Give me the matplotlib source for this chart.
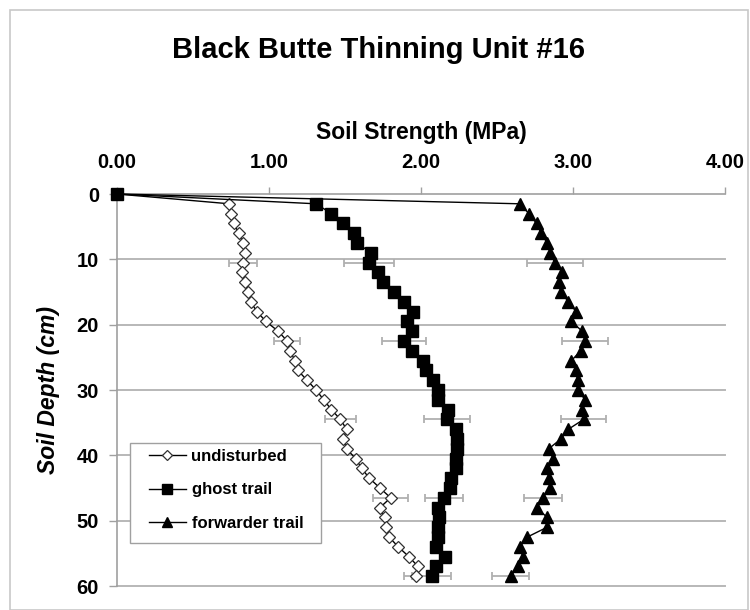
import numpy as np
import matplotlib.pyplot as plt
from matplotlib.patches import Rectangle

plt.rcParams['font.family'] = ['Liberation Sans', 'DejaVu Sans']

# depth of each reading (cm); 0 is the surface
depth = [0.0] + [1.5 * k for k in range(1, 40)]

undisturbed = [0.00,
               0.74, 0.75, 0.77, 0.80, 0.83, 0.84, 0.83, 0.82, 0.84, 0.86,
               0.88, 0.92, 0.98, 1.06, 1.12, 1.14, 1.17, 1.19, 1.25, 1.31,
               1.36, 1.41, 1.47, 1.51, 1.49, 1.51, 1.57, 1.61, 1.66, 1.73,
               1.80, 1.73, 1.76, 1.77, 1.79, 1.85, 1.92, 1.98, 1.97]
ghost_trail = [0.00,
               1.31, 1.41, 1.49, 1.56, 1.58, 1.67, 1.66, 1.72, 1.75, 1.82,
               1.89, 1.95, 1.91, 1.94, 1.89, 1.94, 2.01, 2.03, 2.08, 2.11,
               2.11, 2.18, 2.17, 2.23, 2.24, 2.24, 2.23, 2.23, 2.20, 2.19,
               2.15, 2.11, 2.12, 2.11, 2.11, 2.10, 2.16, 2.10, 2.07]
forwarder_trail = [0.00,
                   2.65, 2.71, 2.76, 2.79, 2.83, 2.85, 2.88, 2.93, 2.91, 2.92,
                   2.97, 3.02, 2.99, 3.06, 3.08, 3.05, 2.99, 3.02, 3.03, 3.03,
                   3.08, 3.06, 3.07, 2.97, 2.92, 2.84, 2.87, 2.83, 2.84, 2.85,
                   2.80, 2.76, 2.83, 2.83, 2.70, 2.65, 2.67, 2.64, 2.59]

# error bars are only shown at every 8th reading
err_index = [7, 15, 23, 31, 39]
undisturbed_err = [0.09, 0.085, 0.10, 0.115, 0.085]
ghost_err = [0.165, 0.145, 0.15, 0.125, 0.13]
forwarder_err = [0.185, 0.15, 0.15, 0.125, 0.12]

x_ticks = [0, 1, 2, 3, 4]
x_labels = ['0.00', '1.00', '2.00', '3.00', '4.00']
y_ticks = [0, 10, 20, 30, 40, 50, 60]

W, H = 750, 610
fig = plt.figure(figsize=(W/100, H/100), dpi=100)
ax = fig.add_axes([117/W, 1 - 586/H, (725 - 117)/W, (586 - 194)/H])

# outer chart frame
fig.patches.append(Rectangle((10/W, 0), 738/W, 1 - 10/H, transform=fig.transFigure,
                             fill=False, edgecolor='#c8c8c8', linewidth=1.2))

for g in y_ticks[1:]:
    ax.axhline(g, color='#b8b8b8', linewidth=1.4, zorder=0, clip_on=False)

series = [
    (undisturbed, undisturbed_err, 'undisturbed', dict(marker='D', markersize=6.5, markerfacecolor='white',
                                                       markeredgecolor='#303030', markeredgewidth=0.9,
                                                       markevery=slice(1, None))),
    (ghost_trail, ghost_err, 'ghost trail', dict(marker='s', markersize=8.5, markerfacecolor='black',
                                                 markeredgecolor='black')),
    (forwarder_trail, forwarder_err, 'forwarder trail', dict(marker='^', markersize=9, markerfacecolor='black',
                                                             markeredgecolor='black', markevery=slice(1, None))),
]

for vals, err, label, style in series:
    ex = [vals[i] for i in err_index]
    ey = [depth[i] for i in err_index]
    ax.errorbar(ex, ey, xerr=err, fmt='none', ecolor='#b0b0b0', elinewidth=1.3,
                capsize=3, capthick=1.3, zorder=1)

handles = []
for vals, err, label, style in series:
    h, = ax.plot(vals, depth, color='black', linewidth=1.0, label=label,
                 zorder=4 if label == 'ghost trail' else 3, clip_on=False, **style)
    handles.append(h)

ax.set_xlim(0, 4)
ax.set_ylim(60, 0)
ax.xaxis.tick_top()
ax.xaxis.set_label_position('top')
ax.set_xticks(x_ticks)
ax.set_xticklabels(x_labels)
ax.set_yticks(y_ticks)
ax.tick_params(axis='x', direction='out', length=5, width=1, color='#a0a0a0', pad=11,
               labelsize=14.5)
ax.tick_params(axis='y', direction='out', length=6, width=1, color='#a0a0a0', pad=7,
               labelsize=14.5)
for t in ax.get_xticklabels() + ax.get_yticklabels():
    t.set_fontweight('bold')

for s in ['right', 'bottom']:
    ax.spines[s].set_visible(False)
for s in ['left', 'top']:
    ax.spines[s].set_color('#a0a0a0')
    ax.spines[s].set_linewidth(1.2)

ax.set_xlabel('Soil Strength (MPa)', fontsize=16.5, fontweight='bold', labelpad=10)
ax.set_ylabel('Soil Depth (cm)', fontsize=16.5, fontweight='bold', fontstyle='italic', labelpad=12)

fig.text(378/W, 1 - 50/H, 'Black Butte Thinning Unit #16', fontsize=21, fontweight='bold',
         ha='center', va='center')

# legend box drawn separately so the padding can match the original
ax.add_patch(Rectangle((130/W, 1 - 543/H), (321 - 130)/W, (543 - 443)/H, transform=fig.transFigure,
                       facecolor='white', edgecolor='#a0a0a0', linewidth=1.0, zorder=5, clip_on=False))
leg = ax.legend(handles=handles, loc='upper left', bbox_to_anchor=(149/W, 1 - 449/H),
                bbox_transform=fig.transFigure, frameon=False,
                prop={'weight': 'bold', 'size': 12}, handlelength=2.2, handletextpad=0.35,
                borderpad=0, labelspacing=1.1, borderaxespad=0, markerscale=0.8)
leg.set_zorder(6)

fig.savefig('out.png', dpi=100)
